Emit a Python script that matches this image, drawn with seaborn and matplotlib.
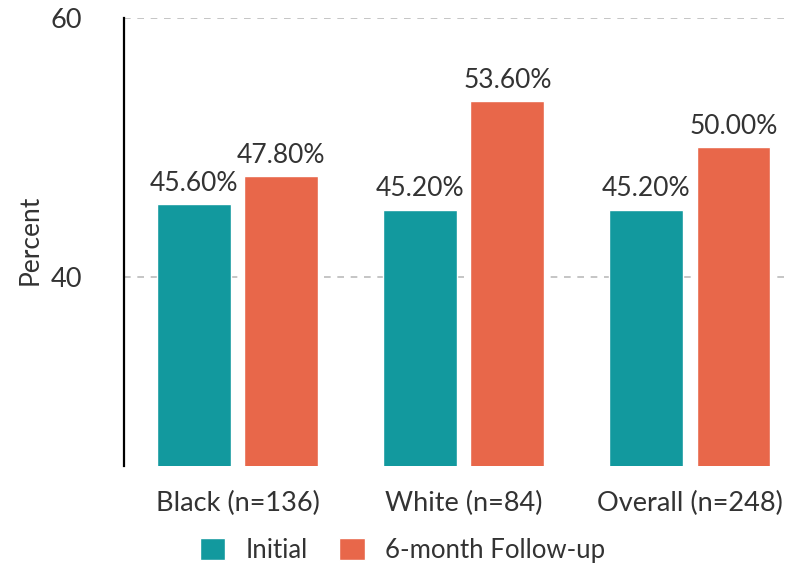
import matplotlib
matplotlib.use("Agg")
import matplotlib.pyplot as plt
import seaborn as sns
import pandas as pd

categories = ["Black (n=136)", "White (n=84)", "Overall (n=248)"]
initial = [45.6, 45.2, 45.2]
followup = [47.8, 53.6, 50.0]
series_names = ["Initial", "6-month Follow-up"]
colors = ["#12999E", "#E8674A"]

df = pd.DataFrame({
    "Group": categories * 2,
    "Percent": initial + followup,
    "Time": [series_names[0]] * 3 + [series_names[1]] * 3,
})

sns.set_style("white")
plt.rcParams["font.family"] = ["Lato", "DejaVu Sans"]
txt = "#333333"

fig = plt.figure(figsize=(7.89, 5.66), dpi=100)
ax = fig.add_axes([124 / 789, 1 - 466 / 566, 1 - 124 / 789, (466 - 18) / 566])

sns.barplot(data=df, x="Group", y="Percent", hue="Time", order=categories,
            hue_order=series_names, palette=colors, width=0.77, gap=0.15,
            saturation=1, ax=ax, legend=True)

ax.set_ylim(25.4, 60)
ax.set_xlim(-0.504, 2.438)
ax.set_yticks([40, 60])
ax.yaxis.grid(True, linestyle=(0, (4, 4)), color="#bbbbbb", linewidth=1.2)
ax.set_axisbelow(True)
for s in ["top", "right", "bottom"]:
    ax.spines[s].set_visible(False)
ax.spines["left"].set_color("black")
ax.spines["left"].set_linewidth(1.6)
ax.tick_params(axis="y", length=0, pad=30, labelsize=19.5, labelcolor=txt)
ax.tick_params(axis="x", length=0, pad=18, labelsize=19.5, labelcolor=txt)
ax.set_xlabel("")
ax.set_ylabel("Percent", fontsize=19, color=txt, labelpad=0)
ax.yaxis.set_label_coords(-0.122, 0.505)

for cont in ax.containers:
    ax.bar_label(cont, labels=[f"{v:.2f}%" for v in cont.datavalues],
                 padding=6, fontsize=19, color=txt)

handles, labels = ax.get_legend_handles_labels()
ax.get_legend().remove()
fig.legend(handles, labels, loc="center", bbox_to_anchor=(0.51, 0.028), ncol=2,
           frameon=False, fontsize=18.5, handlelength=1.0, handleheight=1.0,
           columnspacing=1.2, handletextpad=0.8, labelcolor=txt)

fig.savefig("out.png", dpi=100)
